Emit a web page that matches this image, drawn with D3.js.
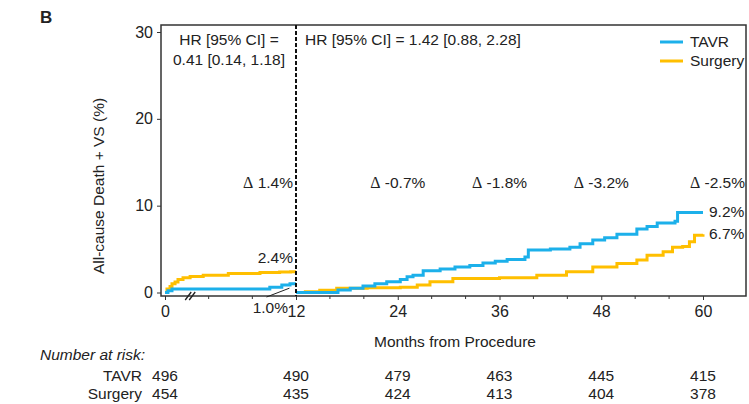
<!DOCTYPE html>
<html>
<head>
<meta charset="utf-8">
<script src="https://cdn.jsdelivr.net/npm/d3@7"></script>
<style>
  body { margin: 0; background: #fff; }
  text { font-family: Arial, "Liberation Sans", sans-serif; fill: #222; }
  .greek { font-family: "Times New Roman", "Liberation Serif", serif; }
</style>
</head>
<body>
<script>
// data: [month, cumulative %]
const tavrEarly = [[0,0],[0.27,0.2],[0.64,0.4],[9.6,0.6],[10.7,0.85],[11.45,1.0],[12,1.0]]
const surgeryEarly = [[0,0],[0.18,0.4],[0.46,0.7],[0.64,1.0],[0.92,1.2],[1.19,1.5],[1.65,1.7],[2.3,1.85],[3.5,2.0],[5.8,2.2],[8.7,2.3],[10.5,2.35],[11.5,2.4],[12,2.4]]
const tavrLate = [[12,0],[16.95,0.3],[18.4,0.5],[19.9,0.75],[21.3,1.0],[22.7,1.25],[24.3,1.5],[25.1,1.8],[25.8,2.0],[27.0,2.5],[29.0,2.7],[30.75,2.95],[32.5,3.1],[34.05,3.4],[35.5,3.6],[36.9,3.8],[39.0,4.1],[39.4,4.9],[42.0,5.0],[44.3,5.2],[45.5,5.6],[47.0,6.05],[48.4,6.3],[49.85,6.7],[52.2,7.3],[53.4,7.6],[54.6,8.0],[56.7,8.2],[57.0,9.2],[60,9.2]]
const surgeryLate = [[12,0],[13.1,0.1],[14.8,0.25],[16.8,0.5],[20.4,0.55],[24.3,0.6],[26.3,0.85],[27.8,1.25],[30.5,1.6],[36.0,1.7],[40.4,2.0],[43.9,2.4],[47.0,2.95],[49.85,3.35],[52.2,3.75],[53.4,4.3],[55.3,4.7],[56.4,5.2],[57.6,5.3],[58.4,5.85],[59.0,6.6],[60,6.7]]

const yTicks = [0, 10, 20, 30]
const earlyTicks = [0, 12]
const lateTicks = [24, 36, 48, 60]
const minorEarly = [4, 8]
const minorLate = [16, 20, 28, 32, 40, 44, 52, 56]

const deltaLabels = ["-0.7%", "-1.8%", "-3.2%", "-2.5%"]
const deltaMonths = [24, 36, 48, 60]

const riskMonths = [0, 12, 24, 36, 48, 60]
const riskTavr = [496, 490, 479, 463, 445, 415]
const riskSurgery = [454, 435, 424, 413, 404, 378]

const colors = { tavr: "#1cb0ea", surgery: "#ffbf00" }

// layout
const width = 749, height = 404
const frame = { left: 161, right: 746, top: 25, bottom: 296 }
const fs = "15.5px"

const svg = d3.select("body").append("svg")
    .attr("width", width)
    .attr("height", height)

const xEarly = d3.scaleLinear().domain([0, 12]).range([165, 296])
const xLate = d3.scaleLinear().domain([12, 60]).range([296, 703])
const y = d3.scaleLinear().domain([0, 30]).range([292.5, 32])

// panel letter
svg.append("text")
    .attr("x", 40).attr("y", 23)
    .style("font-weight", "bold").style("font-size", "17px")
    .text("B")

// curves
const lineEarly = d3.line().curve(d3.curveStepAfter)
    .x(d => xEarly(d[0])).y(d => y(d[1]))
const lineLate = d3.line().curve(d3.curveStepAfter)
    .x(d => xLate(d[0])).y(d => y(d[1]))

const curves = [
    { data: surgeryEarly, line: lineEarly, color: colors.surgery },
    { data: tavrEarly, line: lineEarly, color: colors.tavr },
    { data: surgeryLate, line: lineLate, color: colors.surgery },
    { data: tavrLate, line: lineLate, color: colors.tavr }
]
svg.selectAll(".curve")
    .data(curves)
    .enter()
    .append("path")
    .attr("class", "curve")
    .attr("d", d => d.line(d.data))
    .attr("fill", "none")
    .attr("stroke", d => d.color)
    .attr("stroke-width", 3)

// frame
svg.append("rect")
    .attr("x", frame.left).attr("y", frame.top)
    .attr("width", frame.right - frame.left)
    .attr("height", frame.bottom - frame.top)
    .attr("fill", "none")
    .attr("stroke", "#333")
    .attr("stroke-width", 1.5)

// landmark divider
svg.append("line")
    .attr("x1", xLate(12)).attr("x2", xLate(12))
    .attr("y1", frame.top).attr("y2", frame.bottom)
    .attr("stroke", "#111")
    .attr("stroke-width", 2)
    .attr("stroke-dasharray", "4,2")

// y axis
const yAxis = svg.append("g")
    .attr("transform", `translate(${frame.left},0)`)
    .call(d3.axisLeft(y).tickValues(yTicks).tickSize(4).tickPadding(4))
yAxis.select(".domain").remove()
yAxis.selectAll("text").style("font-size", "16px").style("font-family", "Arial, 'Liberation Sans', sans-serif").attr("fill", "#222")
yAxis.selectAll("line").attr("stroke", "#333")

svg.append("text")
    .attr("transform", `translate(104,186) rotate(-90)`)
    .attr("text-anchor", "middle")
    .style("font-size", fs)
    .text("All-cause Death + VS (%)")

// x axes (two scales, shared baseline)
function xAxisPart(scale, ticks, minor) {
    const g = svg.append("g").attr("transform", `translate(0,${frame.bottom})`)
    g.call(d3.axisBottom(scale).tickValues(ticks).tickSize(4).tickPadding(6))
    g.select(".domain").remove()
    g.selectAll("text").style("font-size", "16px").style("font-family", "Arial, 'Liberation Sans', sans-serif").attr("fill", "#222")
    g.selectAll("line").attr("stroke", "#333")
    g.selectAll(".minor")
        .data(minor)
        .enter()
        .append("line")
        .attr("x1", d => scale(d)).attr("x2", d => scale(d))
        .attr("y1", 0).attr("y2", 3)
        .attr("stroke", "#333")
}
xAxisPart(xEarly, earlyTicks, minorEarly)
xAxisPart(xLate, lateTicks, minorLate)

// axis break marks
const bx = xEarly(2.4)
;[-3, 1].forEach(dx => {
    svg.append("line")
        .attr("x1", bx + dx - 3).attr("y1", frame.bottom + 4)
        .attr("x2", bx + dx + 3).attr("y2", frame.bottom - 4)
        .attr("stroke", "#222").attr("stroke-width", 1.3)
})

svg.append("text")
    .attr("x", 455).attr("y", 347)
    .attr("text-anchor", "middle")
    .style("font-size", fs)
    .text("Months from Procedure")

// HR annotations
svg.append("text").attr("x", 229).attr("y", 45).attr("text-anchor", "middle")
    .style("font-size", fs).text("HR [95% CI] =")
svg.append("text").attr("x", 229).attr("y", 65).attr("text-anchor", "middle")
    .style("font-size", fs).text("0.41 [0.14, 1.18]")
svg.append("text").attr("x", 305).attr("y", 45)
    .style("font-size", fs).text("HR [95% CI] = 1.42 [0.88, 2.28]")

// delta labels (serif delta sign like the original)
function deltaText(x, anchor, value) {
    const t = svg.append("text").attr("x", x).attr("y", 188)
        .attr("text-anchor", anchor)
        .style("font-size", fs)
    t.append("tspan").attr("class", "greek").style("font-size", "16px").text("\u0394")
    t.append("tspan").text(" " + value)
}
deltaText(293, "end", "1.4%")
deltaLabels.forEach((d, i) => {
    const last = i === deltaLabels.length - 1
    deltaText(last ? frame.right - 1 : xLate(deltaMonths[i]), last ? "end" : "middle", d)
})

// end-point labels
svg.append("text").attr("x", 293).attr("y", 263).attr("text-anchor", "end")
    .style("font-size", fs).text("2.4%")
svg.append("text").attr("x", 288).attr("y", 313).attr("text-anchor", "end")
    .style("font-size", fs).text("1.0%")
svg.append("line")
    .attr("x1", xEarly(9.3)).attr("y1", frame.bottom + 1)
    .attr("x2", xEarly(11.4)).attr("y2", y(0.5))
    .attr("stroke", "#222").attr("stroke-width", 1)
svg.append("text").attr("x", 709).attr("y", 217)
    .style("font-size", fs).text("9.2%")
svg.append("text").attr("x", 709).attr("y", 239)
    .style("font-size", fs).text("6.7%")

// legend
const legend = [["TAVR", colors.tavr], ["Surgery", colors.surgery]]
legend.forEach(([label, color], i) => {
    svg.append("line")
        .attr("x1", 660).attr("x2", 683)
        .attr("y1", 42 + i * 19).attr("y2", 42 + i * 19)
        .attr("stroke", color).attr("stroke-width", 3)
    svg.append("text")
        .attr("x", 690).attr("y", 47 + i * 19)
        .style("font-size", fs)
        .text(label)
})

// number at risk
svg.append("text").attr("x", 40).attr("y", 360)
    .style("font-size", fs).style("font-style", "italic")
    .text("Number at risk:")
const rows = [["TAVR", riskTavr, 381], ["Surgery", riskSurgery, 399]]
rows.forEach(([label, values, yy]) => {
    svg.append("text").attr("x", 142).attr("y", yy).attr("text-anchor", "end")
        .style("font-size", fs).text(label)
    svg.selectAll(null)
        .data(values)
        .enter()
        .append("text")
        .attr("x", (d, i) => riskMonths[i] <= 12 ? xEarly(riskMonths[i]) : xLate(riskMonths[i]))
        .attr("y", yy)
        .attr("text-anchor", "middle")
        .style("font-size", fs)
        .text(d => d)
})
</script>
</body>
</html>
